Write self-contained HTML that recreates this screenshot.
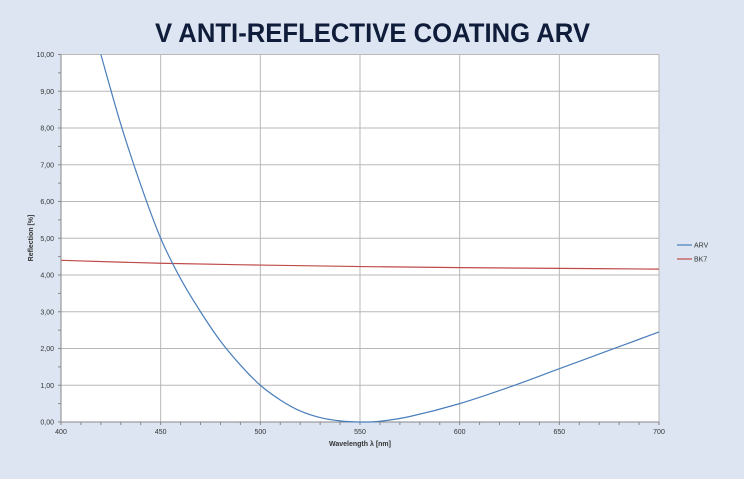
<!DOCTYPE html><html><head><style>
body{margin:0;background:#dce5f1;width:744px;height:474px;overflow:hidden;font-family:"Liberation Sans",sans-serif}
</style></head><body>
<svg id="s" width="744" height="474" xmlns="http://www.w3.org/2000/svg" font-family="Liberation Sans, sans-serif">
<rect width="744" height="474" fill="#dce5f1"/>
<text x="155" y="42" textLength="435" lengthAdjust="spacingAndGlyphs" font-size="27" font-weight="bold" fill="#0f1c3a">V ANTI-REFLECTIVE COATING ARV</text>
<rect x="61" y="54.5" width="598" height="367.5" fill="#fff"/>
<g id="g"></g>
<text x="360" y="446" text-anchor="middle" font-size="7" font-weight="bold" fill="#333">Wavelength λ [nm]</text>
<text transform="translate(33,238) rotate(-90)" text-anchor="middle" font-size="7" font-weight="bold" fill="#333">Reflection [%]</text>
<line x1="677" y1="245" x2="692" y2="245" stroke="#4a7ebb" stroke-width="1.2"/>
<text x="694" y="247.5" font-size="7" fill="#333">ARV</text>
<line x1="677" y1="259" x2="692" y2="259" stroke="#be4b48" stroke-width="1.2"/>
<text x="694" y="261.5" font-size="7" fill="#333">BK7</text>
</svg>
<script>
const X=l=>61+(l-400)*598/300, Y=v=>422-v*36.75;
let h='';
for(let i=1;i<=10;i++)h+=`<line x1="61" x2="659" y1="${Y(i)}" y2="${Y(i)}" stroke="#b8b8b8" stroke-width="1"/>`;
for(let l=450;l<=700;l+=50)h+=`<line y1="54.5" y2="422" x1="${X(l)}" x2="${X(l)}" stroke="#b8b8b8" stroke-width="1"/>`;
h+=`<line x1="61" x2="61" y1="54.5" y2="422" stroke="#888"/><line x1="61" x2="659" y1="422" y2="422" stroke="#888"/>`;
for(let i=0;i<=20;i++)h+=`<line x1="58" x2="61" y1="${Y(i/2)}" y2="${Y(i/2)}" stroke="#888"/>`;
for(let l=400;l<=700;l+=10)h+=`<line y1="422" y2="425" x1="${X(l)}" x2="${X(l)}" stroke="#888"/>`;
for(let i=0;i<=10;i++)h+=`<text x="54" y="${Y(i)+2.5}" text-anchor="end" font-size="7" fill="#333">${i},00</text>`;
for(let l=400;l<=700;l+=50)h+=`<text x="${X(l)}" y="434" text-anchor="middle" font-size="7" fill="#333">${l}</text>`;
function path(pts){let p=pts.map(([l,v])=>[X(l),Y(v)]);let d=`M${p[0][0]},${p[0][1]}`;
for(let i=0;i<p.length-1;i++){let a=p[i-1]||p[i],b=p[i],c=p[i+1],e=p[i+2]||c;
d+=` C${b[0]+(c[0]-a[0])/6},${b[1]+(c[1]-a[1])/6} ${c[0]-(e[0]-b[0])/6},${c[1]-(e[1]-b[1])/6} ${c[0]},${c[1]}`;}return d;}
const arv=[[420,10],[430,8.1],[440,6.45],[450,5.0],[460,3.9],[470,3.0],[480,2.2],[490,1.55],[500,1.0],[510,0.6],[520,0.3],[530,0.12],[540,0.03],[550,0],[560,0.02],[575,0.15],[600,0.5],[625,0.95],[650,1.45],[675,1.95],[700,2.45]];
const bk=[[400,4.4],[450,4.32],[500,4.27],[550,4.23],[600,4.2],[650,4.18],[700,4.16]];
h+=`<path d="${path(bk)}" fill="none" stroke="#be4b48" stroke-width="1.2"/>`;
h+=`<path d="${path(arv)}" fill="none" stroke="#4a7ebb" stroke-width="1.2"/>`;
document.getElementById('g').innerHTML=h;
</script>
</body></html>
